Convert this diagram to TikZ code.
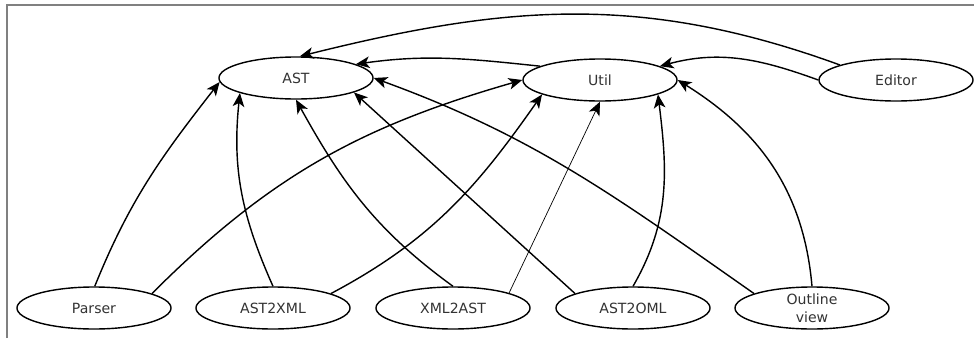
\documentclass[tikz,border=0pt]{standalone}
\usepackage{fontspec}
\setmainfont{DejaVu Sans}
\usetikzlibrary{shapes.geometric, arrows.meta}

\begin{document}
\begin{tikzpicture}[x=0.025cm, y=0.025cm, >={Stealth[length=3.4mm, width=2.9mm, inset=0.9mm]},
    module/.style={ellipse, draw, line width=1pt, fill=white, minimum width=3.85cm,
      minimum height=1.05cm, inner sep=0pt, align=center,
      font=\fontsize{10}{12.5}\selectfont, text=black!80},
    dep/.style={->, line width=1pt}]
  \useasboundingbox (0,0) rectangle (974,338);
  % screenshot frame
  \draw[gray, line width=1.2pt] (7,0) -- (7,333) -- (974,333);
  % ---------------- modules
  \node[module] (ast) at (296,260) {AST};
  \node[module] (util) at (600,258) {Util};
  \node[module] (ed) at (896,258) {Editor};
  \node[module] (parser) at (94,30) {Parser};
  \node[module] (a2x) at (273,30) {AST2XML};
  \node[module] (x2a) at (453,30) {XML2AST};
  \node[module] (a2o) at (633,30) {AST2OML};
  \node[module] (ov) at (812,30) {Outline\\view};
  % ---------------- dependencies
  \draw[dep] (ed.165) to[out=160, in=14] (ast.80);
  \draw[dep] (ed.west) to[out=160, in=15] (util.13);
  \draw[dep] (util.167) to[out=174, in=8] (ast.13);
  \draw[dep] (parser.88) to[out=68, in=232] (ast.183);
  \draw[dep] (parser.14) to[out=45, in=196] (util.west);
  \draw[dep] (a2x.north) to[out=114, in=264] (ast.195);
  \draw[dep] (a2x.14) to[out=28, in=235] (util.194);
  \draw[dep] (x2a.north) to[out=144, in=299] (ast.south);
  \draw[dep, line width=0.5pt] (x2a.15) -- (util.south);
  \draw[dep] (a2o.166) -- (ast.346);
  \draw[dep] (a2o.north) to[out=60, in=277] (util.346);
  \draw[dep] (ov.166) to[out=145, in=340] (ast.east);
  \draw[dep] (ov.north) to[out=95, in=328] (util.east);
\end{tikzpicture}
\end{document}
